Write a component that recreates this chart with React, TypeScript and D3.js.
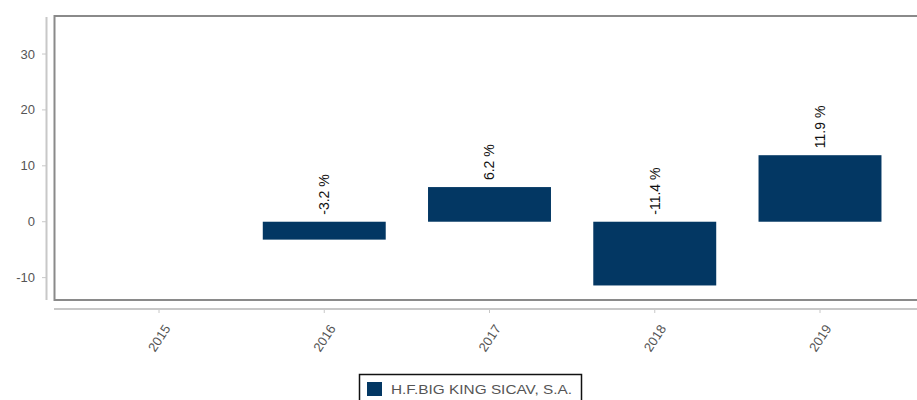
import React from "react";
import * as d3 from "d3";

const years = ["2015", "2016", "2017", "2018", "2019"];
const values: (number | null)[] = [null, -3.2, 6.2, -11.4, 11.9];
const yTicks = [-10, 0, 10, 20, 30];
const seriesName = "H.F.BIG KING SICAV, S.A.";

const W = 917;
const H = 400;
const barColor = "#033763";

export default function App() {
  const x = d3.scalePoint<string>().domain(years).range([159, 820]);
  const y = d3.scaleLinear().domain([-14, 36.8]).range([300, 16]);
  const bw = x.step() * 0.744;
  const font = "'Liberation Sans', Arial, sans-serif";

  return (
    <svg width={W} height={H} style={{ position: "absolute", left: 0, top: 0 }} fontFamily={font}>
      <rect x={0} y={0} width={W} height={H} fill="#fff" />
      {/* plot box */}
      <rect x={54.5} y={16} width={900} height={284} fill="none" stroke="#8a8a8a" strokeWidth={2} />
      {/* y axis */}
      <line x1={46.5} x2={46.5} y1={17} y2={300} stroke="#c8c8c8" strokeWidth={2} />
      {yTicks.map((t) => (
        <g key={t}>
          <line x1={42} x2={46} y1={y(t)} y2={y(t)} stroke="#c8c8c8" strokeWidth={1} />
          <text x={35} y={y(t)} dy="0.35em" textAnchor="end" fontSize={13} fill="#555555">
            {t}
          </text>
        </g>
      ))}
      {/* x axis */}
      <line x1={54} x2={W} y1={309} y2={309} stroke="#c8c8c8" strokeWidth={2} />
      {years.map((yr) => (
        <g key={yr}>
          <line x1={x(yr)!} x2={x(yr)!} y1={309} y2={313} stroke="#c8c8c8" strokeWidth={1} />
          <text
            transform={`translate(${x(yr)! + 8},${326}) rotate(-57)`}
            textAnchor="end"
            dy="0.35em"
            fontSize={13}
            fill="#555555"
          >
            {yr}
          </text>
        </g>
      ))}
      {/* bars */}
      {years.map((yr, i) => {
        const v = values[i];
        if (v === null) return null;
        const cx = x(yr)!;
        const y0 = y(Math.max(0, v));
        const y1 = y(Math.min(0, v));
        const labelY = y(Math.max(0, v)) - 7;
        return (
          <g key={yr}>
            <rect x={cx - bw / 2} y={y0} width={bw} height={y1 - y0} fill={barColor} />
            <text
              transform={`translate(${cx},${labelY}) rotate(-90)`}
              dy="0.35em"
              textAnchor="start"
              fontSize={14}
              fill="#111"
            >
              {`${v.toFixed(1)} %`}
            </text>
          </g>
        );
      })}
      {/* legend */}
      <rect x={359.5} y={374.5} width={222} height={34} fill="#fff" stroke="#111" strokeWidth={1.5} />
      <rect x={367} y={382} width={15} height={14} fill={barColor} />
      <text x={391} y={394} fontSize={13} fill="#555555" textLength={181} lengthAdjust="spacingAndGlyphs">
        {seriesName}
      </text>
    </svg>
  );
}
